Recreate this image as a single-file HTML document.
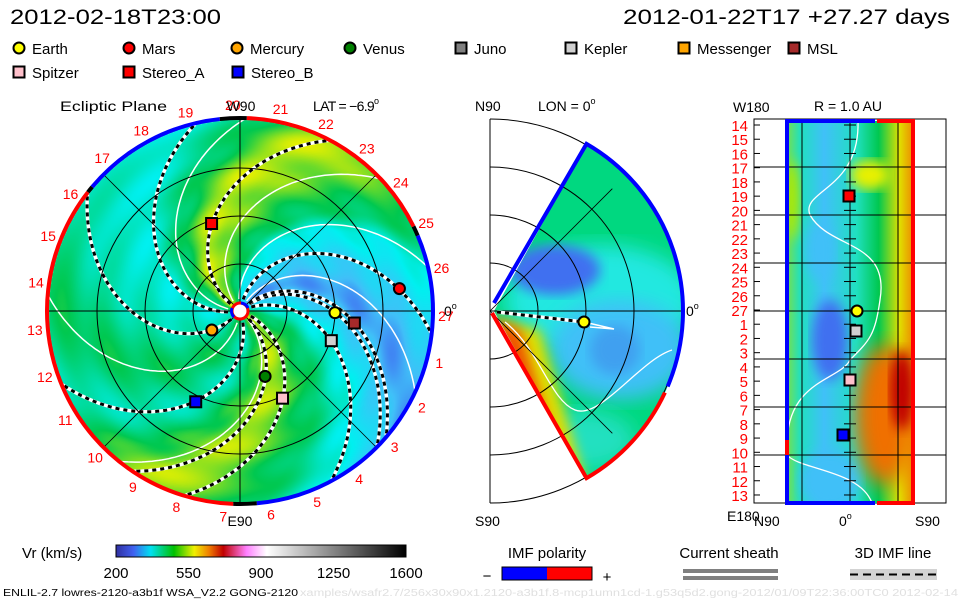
<!DOCTYPE html>
<html><head><meta charset="utf-8"><style>
html,body{margin:0;padding:0;background:#fff;}
#wrap{position:relative;width:960px;height:600px;overflow:hidden;font-family:"Liberation Sans",sans-serif;}
svg{position:absolute;left:0;top:0;}
canvas{position:absolute;}
</style></head><body>
<div id="wrap">
<canvas id="ecl" width="386" height="386" style="left:47px;top:118px"></canvas>
<svg id="s" width="960" height="600" xmlns="http://www.w3.org/2000/svg">
<defs>
<clipPath id="wedgeClip"><path id="wedgePathC" d=""/></clipPath>
<clipPath id="stripClip"><rect x="785" y="121" width="130" height="382"/></clipPath>
<filter id="blur6"><feGaussianBlur stdDeviation="6"/></filter>
<filter id="blur10"><feGaussianBlur stdDeviation="10"/></filter>
<linearGradient id="cbar" x1="0" x2="1" y1="0" y2="0">
<stop offset="0" stop-color="#3030a0"/><stop offset="0.06" stop-color="#4060f0"/><stop offset="0.12" stop-color="#00e0f0"/><stop offset="0.2" stop-color="#00c000"/><stop offset="0.27" stop-color="#f0f000"/><stop offset="0.32" stop-color="#f08000"/><stop offset="0.37" stop-color="#c00000"/><stop offset="0.45" stop-color="#ff80ff"/><stop offset="0.52" stop-color="#ffffff"/><stop offset="1" stop-color="#000000"/>
</linearGradient>
<linearGradient id="stripG" x1="0" x2="1" y1="0" y2="0">
<stop offset="0" stop-color="#80e040"/><stop offset="0.12" stop-color="#20e0c0"/><stop offset="0.3" stop-color="#40c0f8"/><stop offset="0.55" stop-color="#20e0c0"/><stop offset="0.72" stop-color="#00c850"/><stop offset="0.88" stop-color="#e0e000"/><stop offset="1" stop-color="#f08000"/>
</linearGradient>
</defs>
<g id="root"></g>
</svg>
</div>
<script>
// ---- data ----
const bandPhi = [0, 20, 40, 55, 75, 95, 110, 135, 150, 170, 195, 225, 260, 290, 310, 325];
const bandVr  = [440, 380, 330, 290, 330, 370, 440, 490, 510, 440, 380, 400, 445, 400, 460, 505];
const dashedPhi0 = [149, 229, 289, -20, -37, 80, 42, 25, 46, 190];
const whitePhi0 = [100, 130, 175, 262, 318, 62];
const planetNames = ["Earth","Mars","Mercury","Venus","Stereo_A","Stereo_B","Kepler","MSL","Spitzer"];
const planetR = [95, 161, 34, 70, 92, 101, 96, 115, 97];
const planetAng = [-1, 8, 214, -69, 108, 244, -18, -6, -64];
const planetShape = ["c","c","c","c","s","s","s","s","s"];
const planetColor = ["#ffff00","#ff0000","#ffa500","#008000","#ff0000","#0000ff","#d0d0d0","#a52a2a","#ffc0cb"];
const dayLabels = ["20","21","22","23","24","25","26","27","1","2","3","4","5","6","7","8","9","10","11","12","13","14","15","16","17","18","19"];
const cbTicks = [200, 550, 900, 1250, 1600];
const stripLabels = ["14","15","16","17","18","19","20","21","22","23","24","25","26","27","1","2","3","4","5","6","7","8","9","10","11","12","13"];
const legendNames = ["Earth","Mars","Mercury","Venus","Juno","Kepler","Messenger","MSL","Spitzer","Stereo_A","Stereo_B"];
const legendShapes = ["c","c","c","c","s","s","s","s","s","s","s"];
const legendColors = ["#ffff00","#ff0000","#ffa500","#008000","#808080","#d0d0d0","#ffa500","#a52a2a","#ffc0cb","#ff0000","#0000ff"];
const stripMarkers = [["Stereo_A",849,196,"s","#ff0000"],["Earth",857,311,"c","#ffff00"],["Kepler",856,331,"s","#d0d0d0"],["Spitzer",850,380,"s","#ffc0cb"],["Stereo_B",843,435,"s","#0000ff"]];

// ---- helpers ----
const NS="http://www.w3.org/2000/svg";
const root=document.getElementById('root');
function mk(tag,attrs,parent){const e=document.createElementNS(NS,tag);for(const k in attrs)e.setAttribute(k,attrs[k]);(parent||root).appendChild(e);return e;}
function txt(x,y,s,size,fill,anchor,parent){const t=mk('text',{x:x,y:y,'font-size':size,fill:fill||'#000','text-anchor':anchor||'start','font-family':'Liberation Sans, sans-serif'},parent);t.textContent=s;return t;}
function sup(t){const ts=mk('tspan',{'font-size':9,dy:-7},t);ts.textContent='o';return t;}
const cmV=[200,260,310,370,450,520,570,640,720,800,900,1600];
const cmC=[[48,48,160],[64,96,240],[64,192,248],[0,240,240],[0,200,80],[230,240,0],[240,160,0],[240,64,0],[192,0,0],[255,128,255],[255,255,255],[0,0,0]];
function vcol(v){if(v<=cmV[0])return cmC[0];for(let i=1;i<cmV.length;i++){if(v<=cmV[i]){const f=(v-cmV[i-1])/(cmV[i]-cmV[i-1]);return cmC[i-1].map((c,j)=>c+(cmC[i][j]-c)*f);}}return cmC[cmC.length-1];}
function bandV(p){p=((p%360)+360)%360;const n=bandPhi.length;for(let i=0;i<n;i++){const a=bandPhi[i],b=i<n-1?bandPhi[i+1]:bandPhi[0]+360;let q=p<a?p+360:p;if(q>=a&&q<=b){const f=(q-a)/(b-a);const s=(1-Math.cos(f*Math.PI))/2;return bandVr[i]+(bandVr[(i+1)%n]-bandVr[i])*s;}}return bandVr[0];}
const CX=240,CY=311,R=192,K=0.45;
function pt(ang,r,cx,cy){const a=ang*Math.PI/180;return [(cx||CX)+r*Math.cos(a),(cy||CY)-r*Math.sin(a)];}

// ---- ecliptic canvas ----
(function(){const c=document.getElementById('ecl');const ctx=c.getContext('2d');const im=ctx.createImageData(386,386);
for(let y=0;y<386;y++)for(let x=0;x<386;x++){const dx=x+47-CX,dy=CY-(y+118);const r=Math.sqrt(dx*dx+dy*dy);if(r>R)continue;let ang=Math.atan2(dy,dx)*180/Math.PI;const v=bandV(ang+K*r)+10*Math.sin(r*0.15);const col=vcol(v);const i=(y*386+x)*4;im.data[i]=col[0];im.data[i+1]=col[1];im.data[i+2]=col[2];im.data[i+3]=255;}
ctx.putImageData(im,0,0);})();

// ---- titles ----
let t=txt(10,24,"2012-02-18T23:00",21);t.setAttribute('textLength','211');t.setAttribute('lengthAdjust','spacingAndGlyphs');
t=txt(950,24,"2012-01-22T17 +27.27 days",21,'#000','end');t.setAttribute('textLength','327');t.setAttribute('lengthAdjust','spacingAndGlyphs');

// ---- legend ----
function marker(x,y,shape,color,parent){if(shape==='c')return mk('circle',{cx:x,cy:y,r:5.5,fill:color,stroke:'#000','stroke-width':2},parent);return mk('rect',{x:x-5.5,y:y-5.5,width:11,height:11,fill:color,stroke:'#000','stroke-width':2},parent);}
const legX=[19,129,237,350,461,571,684,794,19,129,238];
for(let i=0;i<legendNames.length;i++){const row=i<8?48:72;const g=mk('g',{});
marker(legX[i],row,legendShapes[i],legendColors[i],g);txt(legX[i]+13,row+6,legendNames[i],15,'#000','start',g);}

// ---- ecliptic overlay ----
const eg=mk('g',{});
t=txt(60,111,"Ecliptic Plane",14,'#000','start',eg);t.setAttribute('textLength','107');t.setAttribute('lengthAdjust','spacingAndGlyphs');
t=txt(313,111,"LAT = −6.9",14,'#000','start',eg);t.setAttribute('textLength','66');sup(t);
function spiralD(phi0){let d='';for(let r=12;r<=R;r+=2){const p=pt(phi0-K*r,r);d+=(r===12?'M':'L')+p[0].toFixed(1)+','+p[1].toFixed(1);}return d;}
for(const p0 of whitePhi0){const e=mk('path',{d:spiralD(p0),fill:'none',stroke:'#fff','stroke-width':1.5},eg);}
for(const p0 of dashedPhi0){const d=spiralD(p0);mk('path',{d:d,fill:'none',stroke:'#fff','stroke-width':3.5},eg);const e=mk('path',{d:d,fill:'none',stroke:'#000','stroke-width':3,'stroke-dasharray':'4 4'},eg);}
for(const rr of [47,95,143])mk('circle',{cx:CX,cy:CY,r:rr,fill:'none',stroke:'#000','stroke-width':1},eg);
mk('line',{x1:CX-R,y1:CY,x2:CX+R,y2:CY,stroke:'#000','stroke-width':1},eg);
mk('line',{x1:CX,y1:CY-R,x2:CX,y2:CY+R,stroke:'#000','stroke-width':1},eg);
for(const a of [45,135]){const p1=pt(a,R),p2=pt(a+180,R);mk('line',{x1:p1[0],y1:p1[1],x2:p2[0],y2:p2[1],stroke:'#000','stroke-width':0.8},eg);}
function arc(a1,a2,color){const p1=pt(a1,R+1),p2=pt(a2,R+1);const large=Math.abs(a2-a1)>180?1:0;return mk('path',{d:`M${p1[0]},${p1[1]} A${R+1},${R+1} 0 ${large} 0 ${p2[0]},${p2[1]}`,fill:'none',stroke:color,'stroke-width':4},eg);}
arc(96,140,'#0000ff');arc(140,142,'#000');arc(142,268,'#ff0000');arc(268,275,'#000');arc(275,383,'#0000ff');arc(23,26,'#000');arc(26,88,'#ff0000');arc(88,96,'#000');
mk('circle',{cx:CX,cy:CY,r:8,fill:'#fff',stroke:'#ff0000','stroke-width':3},eg);
mk('path',{d:`M${CX-6},${CY+6} A8.5,8.5 0 0 1 ${CX-8},${CY-3}`,fill:'none',stroke:'#0000ff','stroke-width':3},eg);
mk('path',{d:`M${CX+1},${CY-8} A8.5,8.5 0 0 1 ${CX+8},${CY-3}`,fill:'none',stroke:'#0000ff','stroke-width':3},eg);
for(let i=0;i<dayLabels.length;i++){const ang=92-i*(360/27);const p=pt(ang,R+14);const e=txt(p[0],p[1]+5,dayLabels[i],14,'#ff0000','middle',eg);}
txt(241,111,"W90",14,'#000','middle',eg);txt(240,526,"E90",14,'#000','middle',eg);
t=txt(444,316,"0",14,'#000','start',eg);sup(t);
for(let i=0;i<planetNames.length;i++){const p=pt(planetAng[i],planetR[i]);const m=marker(p[0],p[1],planetShape[i],planetColor[i],eg);}

// ---- meridional panel ----
const mg=mk('g',{});
const MX=490,MY=311,MR=193;
txt(475,111,"N90",14,'#000','start',mg);t=txt(538,111,"LON = 0",14,'#000','start',mg);sup(t);
txt(475,526,"S90",14,'#000','start',mg);
function mpt(a,r){return pt(a,r,MX,MY);}
const wp1=mpt(60,MR),wp2=mpt(-60,MR);
const wd=`M${MX+4},${MY} L${wp1[0]},${wp1[1]} A${MR},${MR} 0 0 1 ${wp2[0]},${wp2[1]} Z`;
document.getElementById('wedgePathC').setAttribute('d',wd);
const wg=mk('g',{'clip-path':'url(#wedgeClip)'},mg);
mk('rect',{x:480,y:110,width:220,height:400,fill:'#00d880'},wg);
mk('ellipse',{cx:600,cy:300,rx:95,ry:55,fill:'#20e8e0',filter:'url(#blur10)'},wg);
mk('ellipse',{cx:620,cy:350,rx:70,ry:50,fill:'#40c0f8',filter:'url(#blur10)'},wg);
mk('ellipse',{cx:555,cy:270,rx:45,ry:25,fill:'#4070f0',filter:'url(#blur6)'},wg);
mk('ellipse',{cx:615,cy:350,rx:25,ry:25,fill:'#40a0f0',filter:'url(#blur6)'},wg);
mk('ellipse',{cx:580,cy:440,rx:55,ry:30,fill:'#20e0c0',filter:'url(#blur10)'},wg);
mk('path',{d:`M493,318 L540,330 L585,480 L560,490 Z`,fill:'#e0e000',filter:'url(#blur6)'},wg);
mk('path',{d:`M493,318 L520,330 L560,460 L545,470 Z`,fill:'#f05000',filter:'url(#blur6)'},wg);
mk('path',{d:`M505,322 C540,350 550,400 575,410 C600,420 640,360 672,350`,fill:'none',stroke:'#fff','stroke-width':1.3},wg);
for(const rr of [48,96,144,192])mk('path',{d:`M${MX},${MY-rr} A${rr},${rr} 0 0 1 ${MX},${MY+rr}`,fill:'none',stroke:'#000','stroke-width':1},mg);
mk('line',{x1:MX,y1:119,x2:MX,y2:503,stroke:'#000','stroke-width':1},mg);
mk('line',{x1:MX,y1:MY,x2:MX+MR,y2:MY,stroke:'#000','stroke-width':1},mg);
{const a=mpt(45,MR-20),b=mpt(-45,MR-20);mk('line',{x1:MX,y1:MY,x2:a[0],y2:a[1],stroke:'#000','stroke-width':0.8},mg);mk('line',{x1:MX,y1:MY,x2:b[0],y2:b[1],stroke:'#000','stroke-width':0.8},mg);}
mk('path',{d:`M${MX+4},${MY-8} L${wp1[0]},${wp1[1]} A${MR},${MR} 0 0 1 ${mpt(-23,MR)[0]},${mpt(-23,MR)[1]}`,fill:'none',stroke:'#0000ff','stroke-width':4},mg);
mk('path',{d:`M${mpt(-25,MR)[0]},${mpt(-25,MR)[1]} A${MR},${MR} 0 0 1 ${wp2[0]},${wp2[1]} L${MX+2},${MY+2}`,fill:'none',stroke:'#ff0000','stroke-width':4},mg);
mk('path',{d:`M497,312 L584,322`,fill:'none',stroke:'#fff','stroke-width':3.5},mg);
mk('path',{d:`M497,312 L584,322`,fill:'none',stroke:'#000','stroke-width':3,'stroke-dasharray':'4 4'},mg);
mk('path',{d:`M584,322 L614,329 L590,327`,fill:'none',stroke:'#fff','stroke-width':1.5},mg);
t=txt(686,316,"0",14,'#000','start',mg);sup(t);
{const m=marker(584,322,'c','#ffff00',mg);}

// ---- 1 AU strip panel ----
const sg=mk('g',{});
txt(848,111,"R = 1.0 AU",14,'#000','middle',sg);txt(733,112,"W180",14,'#000','start',sg);
txt(727,521,"E180",14,'#000','start',sg);txt(754,526,"N90",14,'#000','start',sg);t=txt(839,526,"0",14,'#000','start',sg);sup(t);txt(915,526,"S90",14,'#000','start',sg);
mk('rect',{x:754,y:119,width:192,height:384,fill:'#fff',stroke:'#000','stroke-width':1},sg);
const cg=mk('g',{'clip-path':'url(#stripClip)'},sg);
mk('rect',{x:785,y:121,width:130,height:382,fill:'url(#stripG)'},cg);
mk('ellipse',{cx:830,cy:340,rx:18,ry:40,fill:'#4070f0',filter:'url(#blur6)'},cg);
mk('ellipse',{cx:820,cy:250,rx:15,ry:30,fill:'#40c0f8',filter:'url(#blur6)'},cg);
mk('ellipse',{cx:830,cy:480,rx:30,ry:30,fill:'#40c0f8',filter:'url(#blur6)'},cg);
mk('ellipse',{cx:885,cy:415,rx:30,ry:70,fill:'#f07000',filter:'url(#blur10)'},cg);
mk('ellipse',{cx:902,cy:390,rx:12,ry:40,fill:'#c00000',filter:'url(#blur6)'},cg);
mk('ellipse',{cx:870,cy:175,rx:20,ry:15,fill:'#e8f000',filter:'url(#blur6)'},cg);
mk('ellipse',{cx:792,cy:200,rx:8,ry:40,fill:'#b0e800',filter:'url(#blur6)'},cg);
mk('path',{d:'M858,121 C860,190 800,190 810,215 C830,250 890,240 880,300 C875,335 870,340 850,360 C840,380 790,380 787,440 M787,455 C800,470 860,470 872,503',fill:'none',stroke:'#fff','stroke-width':1.3},cg);
for(const x of [802,850,898])mk('line',{x1:x,y1:119,x2:x,y2:503,stroke:'#000','stroke-width':1},sg);
for(const y of [167,215,263,311,359,407,455])mk('line',{x1:754,y1:y,x2:946,y2:y,stroke:'#000','stroke-width':1},sg);
for(let i=0;i<stripLabels.length;i++){const y=125+i*14.23;mk('line',{x1:754,y1:y,x2:760,y2:y,stroke:'#000'},sg);mk('line',{x1:844,y1:y,x2:856,y2:y,stroke:'#000'},sg);const e=txt(748,y+6,stripLabels[i],15,'#ff0000','end',sg);}
mk('path',{d:'M875,121 L787,121 L787,440',fill:'none',stroke:'#0000ff','stroke-width':4},sg);
mk('path',{d:'M787,455 L787,503 L875,503',fill:'none',stroke:'#0000ff','stroke-width':4},sg);
mk('path',{d:'M787,440 L787,455',fill:'none',stroke:'#ff0000','stroke-width':4},sg);
mk('path',{d:'M877,121 L913,121 L913,503 L877,503',fill:'none',stroke:'#ff0000','stroke-width':4},sg);
for(const m of stripMarkers){const e=marker(m[1],m[2],m[3],m[4],sg);}

// ---- bottom legends ----
const bg=mk('g',{});
txt(22,558,"Vr (km/s)",15,'#000','start',bg);
{const e=mk('rect',{x:116,y:545,width:290,height:12,fill:'url(#cbar)',stroke:'#000','stroke-width':1},bg);}
for(const v of cbTicks){const x=116+(v-200)/1400*290;const e=txt(x,578,String(v),15,'#000','middle',bg);}
txt(547,558,"IMF polarity",15,'#000','middle',bg);
mk('rect',{x:502,y:567,width:45,height:13,fill:'#0000ff'},bg);mk('rect',{x:547,y:567,width:45,height:13,fill:'#ff0000'},bg);mk('rect',{x:502,y:567,width:90,height:13,fill:'none',stroke:'#000'},bg);
txt(487,581,"−",15,'#000','middle',bg);txt(607,582,"+",15,'#000','middle',bg);
txt(729,558,"Current sheath",15,'#000','middle',bg);
mk('rect',{x:683,y:569,width:95,height:4,fill:'#808080'},bg);mk('rect',{x:683,y:576,width:95,height:4,fill:'#808080'},bg);
txt(893,558,"3D IMF line",15,'#000','middle',bg);
mk('rect',{x:850,y:569,width:87,height:11,fill:'#d3d3d3'},bg);mk('line',{x1:850,y1:574.5,x2:937,y2:574.5,stroke:'#000','stroke-width':2,'stroke-dasharray':'8 5'},bg);
t=txt(3,596,"ENLIL-2.7 lowres-2120-a3b1f WSA_V2.2 GONG-2120",10,'#000','start',bg);t.setAttribute('textLength','295');t.setAttribute('lengthAdjust','spacingAndGlyphs');
t=txt(300,596,"xamples/wsafr2.7/256x30x90x1.2120-a3b1f.8-mcp1umn1cd-1.g53q5d2.gong-2012/01/09T22:36:00TC0    2012-02-14",10,'#e0e0e0','start',bg);t.setAttribute('textLength','658');t.setAttribute('lengthAdjust','spacingAndGlyphs');
</script>
</body></html>
